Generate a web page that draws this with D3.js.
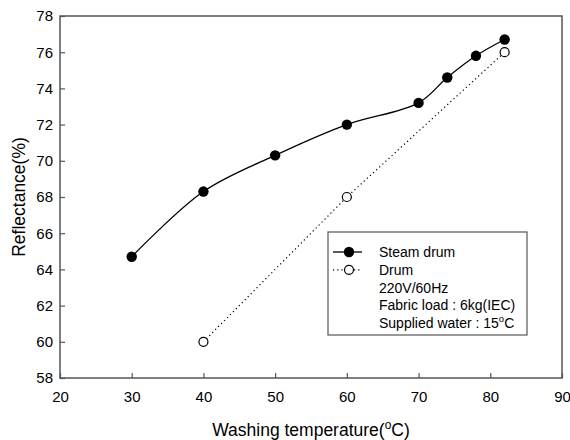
<!DOCTYPE html>
<html lang="en">
<head>
    <meta charset="UTF-8">
    <script src="https://d3js.org/d3.v7.min.js"></script>
    <title>Reflectance vs washing temperature</title>
    <style>
        body { margin: 0; background: #fff; }
        text { font-family: "Liberation Sans", Arial, sans-serif; }
    </style>
</head>
<body>
<script>
    // Data
    const steamTemp = [30, 40, 50, 60, 70, 74, 78, 82];
    const steamRefl = [64.7, 68.3, 70.3, 72.0, 73.2, 74.6, 75.8, 76.7];
    const drumTemp = [40, 60, 82];
    const drumRefl = [60.0, 68.0, 76.0];
    const xTicks = [20, 30, 40, 50, 60, 70, 80, 90];
    const yTicks = [58, 60, 62, 64, 66, 68, 70, 72, 74, 76, 78];
    const legendNotes = ["220V/60Hz", "Fabric load : 6kg(IEC)"];

    const W = 570, H = 440;
    const margin = {top: 16, right: 8, bottom: 62, left: 60};
    const width = W - margin.left - margin.right;
    const height = H - margin.top - margin.bottom;

    const svg = d3.select("body").append("svg")
        .attr("width", W)
        .attr("height", H);
    const g = svg.append("g")
        .attr("transform", "translate(" + margin.left + "," + margin.top + ")");

    // Scales
    const x = d3.scaleLinear().domain([20, 90]).range([0, width]);
    const y = d3.scaleLinear().domain([58, 78]).range([height, 0]);

    // Frame
    g.append("rect")
        .attr("width", width).attr("height", height)
        .attr("fill", "none").attr("stroke", "#555").attr("stroke-width", 1.5);

    // Axes (ticks point inward)
    const xAxis = g.append("g")
        .attr("transform", "translate(0," + height + ")")
        .call(d3.axisBottom(x).tickValues(xTicks).tickSizeInner(-5).tickSizeOuter(0).tickPadding(13));
    const yAxis = g.append("g")
        .call(d3.axisLeft(y).tickValues(yTicks).tickSizeInner(-5).tickSizeOuter(0).tickPadding(7));
    [xAxis, yAxis].forEach(a => {
        a.select(".domain").remove();
        a.selectAll(".tick line").attr("stroke", "#555").attr("stroke-width", 1.2);
        a.selectAll(".tick text")
            .attr("font-size", 15).attr("fill", "#000")
            .attr("font-family", "'Liberation Sans', Arial, sans-serif");
    });

    // Lines
    const steam = steamTemp.map((t, i) => ({t: t, r: steamRefl[i]}));
    const drum = drumTemp.map((t, i) => ({t: t, r: drumRefl[i]}));

    g.append("path")
        .datum(drum)
        .attr("fill", "none").attr("stroke", "#000").attr("stroke-width", 1.2)
        .attr("stroke-dasharray", "1.2,3")
        .attr("d", d3.line().x(d => x(d.t)).y(d => y(d.r)));

    g.append("path")
        .datum(steam)
        .attr("fill", "none").attr("stroke", "#000").attr("stroke-width", 1.3)
        .attr("d", d3.line().curve(d3.curveCatmullRom.alpha(0.5)).x(d => x(d.t)).y(d => y(d.r)));

    g.selectAll(".steam").data(steam).enter().append("circle")
        .attr("cx", d => x(d.t)).attr("cy", d => y(d.r)).attr("r", 5.2)
        .attr("fill", "#000");

    g.selectAll(".drum").data(drum).enter().append("circle")
        .attr("cx", d => x(d.t)).attr("cy", d => y(d.r)).attr("r", 4.5)
        .attr("fill", "#fff").attr("stroke", "#000").attr("stroke-width", 1.2);

    // Legend
    const lg = svg.append("g").attr("transform", "translate(328,232)");
    lg.append("rect").attr("width", 199).attr("height", 103)
        .attr("fill", "#fff").attr("stroke", "#555").attr("stroke-width", 1.2);
    const rowY = i => 20 + i * 17.8;
    lg.append("line").attr("x1", 5).attr("x2", 34).attr("y1", rowY(0)).attr("y2", rowY(0))
        .attr("stroke", "#000").attr("stroke-width", 1.3);
    lg.append("circle").attr("cx", 21).attr("cy", rowY(0)).attr("r", 5.2).attr("fill", "#000");
    lg.append("line").attr("x1", 5).attr("x2", 34).attr("y1", rowY(1)).attr("y2", rowY(1))
        .attr("stroke", "#000").attr("stroke-width", 1.2).attr("stroke-dasharray", "1.2,3");
    lg.append("circle").attr("cx", 21).attr("cy", rowY(1)).attr("r", 4.5)
        .attr("fill", "#fff").attr("stroke", "#000").attr("stroke-width", 1.2);

    const labels = ["Steam drum", "Drum"].concat(legendNotes);
    labels.forEach((s, i) => {
        lg.append("text").attr("x", 51).attr("y", rowY(i) + 5)
            .attr("font-size", 14).text(s);
    });
    const sw = lg.append("text").attr("x", 51).attr("y", rowY(4) + 5).attr("font-size", 14);
    sw.append("tspan").text("Supplied water : 15");
    sw.append("tspan").attr("font-size", 9.5).attr("dy", -6).text("o");
    sw.append("tspan").attr("dy", 6).text("C");

    // Axis titles
    svg.append("text")
        .attr("transform", "translate(25," + (margin.top + height / 2) + ") rotate(-90)")
        .attr("text-anchor", "middle").attr("font-size", 17.5).text("Reflectance(%)");
    const xt = svg.append("text")
        .attr("x", margin.left + width / 2).attr("y", 436)
        .attr("text-anchor", "middle").attr("font-size", 17.5);
    xt.append("tspan").text("Washing temperature(");
    xt.append("tspan").attr("font-size", 12).attr("dy", -7).text("o");
    xt.append("tspan").attr("dy", 7).text("C)");
</script>
</body>
</html>
